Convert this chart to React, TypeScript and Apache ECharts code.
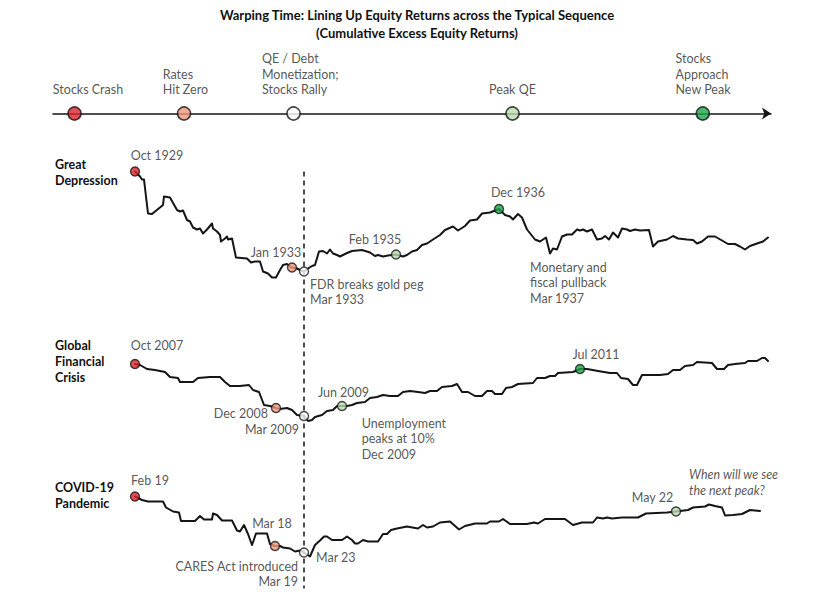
import React, { useEffect, useRef } from 'react';
import * as echarts from 'echarts';

// ---------- Timeline (typical sequence) ----------
const stageNames = ['Stocks Crash', 'Rates\nHit Zero', 'QE / Debt\nMonetization;\nStocks Rally', 'Peak QE', 'Stocks\nApproach\nNew Peak'];
const stagePositions = [3, 18.25, 33.5, 64, 90.5];
const stageColors = ['#dc232b', '#ef977b', '#ffffff', '#b8dbae', '#1ca648'];
const stageLabelShift = [-21.7, -21.3, -31.6, -23.4, -27.3];

// ---------- Cumulative excess equity returns (warped time step, return index) ----------
const gdData: [number, number][] = [
  [0, 0], [5, -5], [7, -8], [9, -8], [13, -42], [17, -42.5], [28, -33.5], [29, -25], [35, -26], [42, -38.5], [45, -40], [48, -39],
  [52, -48.5], [55, -50], [58, -56], [62, -58], [65, -57], [68, -62], [72, -58], [77, -52], [78, -57], [82, -60], [85, -63.5], [86, -70],
  [90, -67], [92, -65], [93, -68], [97, -67], [101, -86], [112, -87], [116, -91], [120, -90], [125, -90], [128, -100], [133, -102],
  [137, -106], [141, -106], [145, -98.5], [148, -93.5], [152, -92.5], [157, -96], [162, -97], [165, -98.5], [169, -100], [173, -97],
  [177, -94.5], [180, -93.5], [184, -80], [188, -79.5], [192, -82], [195, -78], [198, -82], [202, -83.5], [205, -85], [208, -83.5],
  [211, -82], [217, -79.5], [227, -78.5], [235, -81], [240, -84.5], [243, -83.5], [248, -85], [253, -84], [261, -83], [268, -85],
  [272, -83.5], [277, -80], [282, -78.5], [287, -73.5], [292, -72], [298, -68], [305, -63.5], [310, -58.5], [318, -55], [323, -59],
  [330, -54.5], [335, -49], [342, -48], [347, -42], [355, -41], [364, -37.5], [370, -43.5], [375, -45], [378, -48], [383, -42.5],
  [387, -46], [392, -58], [400, -68], [405, -70], [411, -66], [415, -82], [418, -77], [422, -78], [427, -65], [432, -63], [437, -63],
  [442, -58], [445, -59], [448, -58], [452, -60], [457, -58], [462, -68], [467, -67], [470, -64.5], [474, -68], [478, -61], [483, -66],
  [487, -57], [492, -58], [495, -59.5], [500, -58], [505, -59], [514, -58.5], [518, -75], [523, -70], [532, -68], [538, -64.5],
  [543, -67], [552, -68], [558, -68.5], [562, -72], [567, -70], [573, -65], [580, -65], [587, -69], [593, -72.5], [600, -72.5],
  [605, -75], [610, -78], [615, -74.5], [622, -72], [628, -70], [633, -66],
];

const gfcData: [number, number][] = [
  [0, 0], [5, -1], [12, -5], [20, -6], [30, -8], [35, -13], [43, -14], [45, -18], [58, -18], [63, -14], [75, -13], [85, -13],
  [90, -18], [95, -22], [105, -22], [114, -21], [118, -26], [124, -28], [129, -41], [135, -42], [141, -44], [145, -45], [152, -44],
  [157, -46], [162, -51], [169, -52], [173, -57], [177, -56], [180, -53], [187, -51], [192, -47], [198, -46], [202, -42], [207, -42],
  [212, -42], [217, -41], [222, -39], [230, -38], [235, -34], [242, -33], [248, -31], [255, -32], [263, -32], [268, -28], [275, -27],
  [283, -28], [290, -29], [295, -27], [302, -27], [307, -23], [317, -22], [322, -20], [327, -28], [333, -28], [340, -32], [347, -32],
  [352, -27], [357, -27], [360, -30], [367, -30], [371, -24], [377, -23], [383, -20], [398, -19], [402, -14], [410, -14], [415, -12],
  [420, -12], [423, -9], [438, -8], [445, -5], [452, -5], [463, -7], [475, -9], [482, -9], [486, -14], [493, -15], [498, -21],
  [502, -21], [507, -11], [525, -11], [533, -10], [538, -6], [545, -6], [550, -2], [558, -1], [562, 2], [577, 1], [582, -5],
  [589, -5], [593, -1], [600, 0], [610, 1], [613, 3], [622, 3], [627, 6], [630, 6], [633, 3],
];

const covidData: [number, number][] = [
  [0, 0], [7, -3.5], [13, -5], [28, -5], [31, -11], [38, -15], [44, -16], [46, -24.5], [60, -24.5], [65, -19.5], [69, -23], [77, -23],
  [78, -17], [82, -18.5], [87, -24], [97, -24], [102, -34], [105, -35], [109, -28.5], [113, -37.5], [117, -48.5], [121, -37],
  [132, -37], [135, -47.5], [140, -49.5], [145, -49.5], [148, -51], [155, -52], [160, -55], [165, -54], [169, -56], [175, -60],
  [180, -48.5], [185, -44], [189, -40], [192, -40], [197, -43.5], [207, -43.5], [212, -40], [217, -43.5], [220, -47], [223, -47],
  [228, -43.5], [233, -45], [243, -45], [248, -37.5], [252, -37.5], [256, -33.5], [262, -32], [272, -30], [283, -32], [288, -28.5],
  [292, -31], [298, -30], [305, -26], [315, -25], [324, -33], [330, -29.5], [340, -27], [352, -27], [355, -25], [364, -25],
  [368, -22.5], [375, -27.5], [392, -27.5], [399, -26], [403, -27], [410, -22.5], [430, -22.5], [438, -28.5], [447, -26], [458, -26],
  [462, -21], [468, -22], [472, -21], [477, -22], [487, -21], [503, -21], [511, -17], [532, -16], [541, -15], [553, -13.5],
  [558, -11], [570, -10], [574, -8], [580, -9.5], [587, -11], [590, -19], [598, -18.5], [607, -17.5], [615, -13.5], [625, -14.5],
];

// events: [x, stage, label]
const gdEvents: [number, number, string][] = [
  [0, 0, 'Oct 1929'], [157, 1, 'Jan 1933'], [169, 2, 'FDR breaks gold peg\nMar 1933'], [261, 3, 'Feb 1935'], [364, 4, 'Dec 1936'],
];
const gfcEvents: [number, number, string][] = [
  [0, 0, 'Oct 2007'], [141, 1, 'Dec 2008'], [169, 2, 'Mar 2009'], [207, 3, 'Jun 2009'], [445, 4, 'Jul 2011'],
];
const covidEvents: [number, number, string][] = [
  [0, 0, 'Feb 19'], [140, 1, 'Mar 18'], [169, 2, 'Mar 23'], [541, 3, 'May 22'],
];
// annotations: [x, text]
const gdNotes: [number, string][] = [[400, 'Monetary and\nfiscal pullback\nMar 1937']];
const gfcNotes: [number, string][] = [[230, 'Unemployment\npeaks at 10%\nDec 2009']];
const covidNotes: [number, string][] = [[169, 'CARES Act introduced\nMar 19'], [574, 'When will we see\nthe next peak?']];

const alignX = 169;

// label layout: [dx, dy, align, verticalAlign]
type LP = [number, number, string, string];
const gdEventPos: LP[] = [[22, -16.5, 'center', 'middle'], [-16, -15.5, 'center', 'middle'], [6, 5.2, 'left', 'top'], [-21, -15, 'center', 'middle'], [19, -17, 'center', 'middle']];
const gfcEventPos: LP[] = [[22, -19, 'center', 'middle'], [-8, 5, 'right', 'middle'], [-5, 13, 'right', 'middle'], [1.5, -13.5, 'center', 'middle'], [16, -15, 'center', 'middle']];
const covidEventPos: LP[] = [[15, -16, 'center', 'middle'], [-3, -23, 'center', 'middle'], [12, 5, 'left', 'middle'], [-23.5, -14, 'center', 'middle']];
const gdNotePos: LP[] = [[-5, 20, 'left', 'top']];
const gfcNotePos: LP[] = [[-3.3, 13.5, 'left', 'top']];
const covidNotePos: LP[] = [[-6, 6, 'right', 'top'], [-20, -38.5, 'left', 'top']];

const FONT = 'Lato, "Open Sans", sans-serif';
const LABEL_COLOR = '#2a2a2a';

function yAt(data: [number, number][], x: number): number {
  const p = data.find((d) => d[0] === x);
  return p ? p[1] : 0;
}

function lineSeries(idx: number, data: [number, number][]) {
  return {
    type: 'line', xAxisIndex: idx, yAxisIndex: idx, data, showSymbol: false, symbol: 'none', clip: false, z: 2,
    lineStyle: { color: '#151515', width: 2, cap: 'round', join: 'round' },
  };
}

function eventSeries(idx: number, data: [number, number][], events: [number, number, string][], pos: LP[]) {
  return {
    type: 'scatter', xAxisIndex: idx, yAxisIndex: idx, symbolSize: 9, clip: false, z: 5,
    data: events.map((ev, i) => ({
      value: [ev[0], yAt(data, ev[0])],
      itemStyle: { color: stageColors[ev[1]], borderColor: '#151515', borderWidth: 1.4 },
      label: {
        show: true, position: 'inside', formatter: () => ev[2], align: pos[i][2], verticalAlign: pos[i][3],
        offset: [pos[i][0], pos[i][1]], color: LABEL_COLOR, fontSize: 12.5, fontFamily: FONT, lineHeight: 15.5,
      },
    })),
  };
}

function noteSeries(idx: number, data: [number, number][], notes: [number, string][], pos: LP[], italicLast = false) {
  return {
    type: 'scatter', xAxisIndex: idx, yAxisIndex: idx, symbolSize: 1, clip: false, z: 4, silent: true,
    itemStyle: { color: 'rgba(0,0,0,0)' },
    data: notes.map((n, i) => {
      const italic = italicLast && i === notes.length - 1;
      return {
        value: [n[0], yAt(data, n[0])],
        label: {
          show: true, position: 'inside', formatter: () => n[1], align: pos[i][2], verticalAlign: pos[i][3],
          offset: [pos[i][0], pos[i][1]], color: LABEL_COLOR, fontSize: 12.5, fontStyle: italic ? 'italic' : 'normal',
          fontFamily: FONT, lineHeight: italic ? 16.5 : 15.5,
        },
      };
    }),
  };
}

const hiddenAxis = (gridIndex: number, min: number, max: number) => ({
  type: 'value', gridIndex, min, max, show: false, splitLine: { show: false },
});

export default function App() {
  const ref = useRef<HTMLDivElement>(null);
  useEffect(() => {
    document.body.style.margin = '0';
    if (!ref.current) return;
    const chart = echarts.init(ref.current, undefined, { renderer: 'svg' });
    chart.setOption({
      animation: false,
      backgroundColor: '#ffffff',
      grid: [
        { left: 53, right: 69, top: 99, height: 14.5 },
        { left: 135, right: 72, top: 141.5, height: 180 },
        { left: 135, right: 72, top: 334, height: 120 },
        { left: 135, right: 72, top: 466.5, height: 120 },
      ],
      xAxis: [
        {
          type: 'value', gridIndex: 0, min: 0, max: 100,
          axisLine: { show: true, onZero: false, symbol: ['none', 'arrow'], symbolSize: [9, 9], lineStyle: { color: '#151515', width: 1.5 } },
          axisTick: { show: false }, axisLabel: { show: false }, splitLine: { show: false },
        },
        hiddenAxis(1, 0, 633), hiddenAxis(2, 0, 633), hiddenAxis(3, 0, 633),
      ],
      yAxis: [hiddenAxis(0, 0, 1), hiddenAxis(1, -150, 30), hiddenAxis(2, -90, 30), hiddenAxis(3, -90, 30)],
      series: [
        {
          type: 'scatter', xAxisIndex: 0, yAxisIndex: 0, symbolSize: 13, clip: false, z: 5,
          data: stagePositions.map((p, i) => ({
            value: [p, 0],
            itemStyle: { color: stageColors[i], borderColor: '#151515', borderWidth: 1.6 },
            label: {
              show: true, position: 'top', distance: 8.5, align: 'left', offset: [stageLabelShift[i], 0],
              formatter: () => stageNames[i], color: LABEL_COLOR, fontSize: 12.5, fontFamily: FONT, lineHeight: 15.5,
            },
          })),
        },
        lineSeries(1, gdData), eventSeries(1, gdData, gdEvents, gdEventPos), noteSeries(1, gdData, gdNotes, gdNotePos),
        lineSeries(2, gfcData), eventSeries(2, gfcData, gfcEvents, gfcEventPos), noteSeries(2, gfcData, gfcNotes, gfcNotePos),
        lineSeries(3, covidData), eventSeries(3, covidData, covidEvents, covidEventPos), noteSeries(3, covidData, covidNotes, covidNotePos, true),
      ],
    });

    const top = chart.convertToPixel({ gridIndex: 1 } as any, [alignX, 0]) as number[];
    const bottom = chart.convertToPixel({ gridIndex: 3 } as any, [alignX, -92]) as number[];
    const titleStyle = { font: `bold 13px ${FONT}`, fill: '#111111', textAlign: 'center', textVerticalAlign: 'middle' };
    const panelStyle = (text: string) => ({ text, font: `bold 12.5px ${FONT}`, fill: '#111111', lineHeight: 16, textAlign: 'left', textVerticalAlign: 'top' });
    chart.setOption({
      graphic: [
        { type: 'text', x: 417, y: 15, style: { ...titleStyle, text: 'Warping Time: Lining Up Equity Returns across the Typical Sequence' } },
        { type: 'text', x: 417, y: 32.5, style: { ...titleStyle, text: '(Cumulative Excess Equity Returns)' } },
        { type: 'text', x: 55, y: 156, style: panelStyle('Great\nDepression') },
        { type: 'text', x: 55, y: 337, style: panelStyle('Global\nFinancial\nCrisis') },
        { type: 'text', x: 55, y: 479.5, style: panelStyle('COVID-19\nPandemic') },
        {
          type: 'line', z: 1, shape: { x1: top[0], y1: top[1], x2: bottom[0], y2: bottom[1] },
          style: { stroke: '#151515', lineWidth: 1.5, lineDash: [5, 4] },
        },
      ],
    });
    return () => chart.dispose();
  }, []);
  return <div ref={ref} style={{ width: 840, height: 603 }} />;
}
